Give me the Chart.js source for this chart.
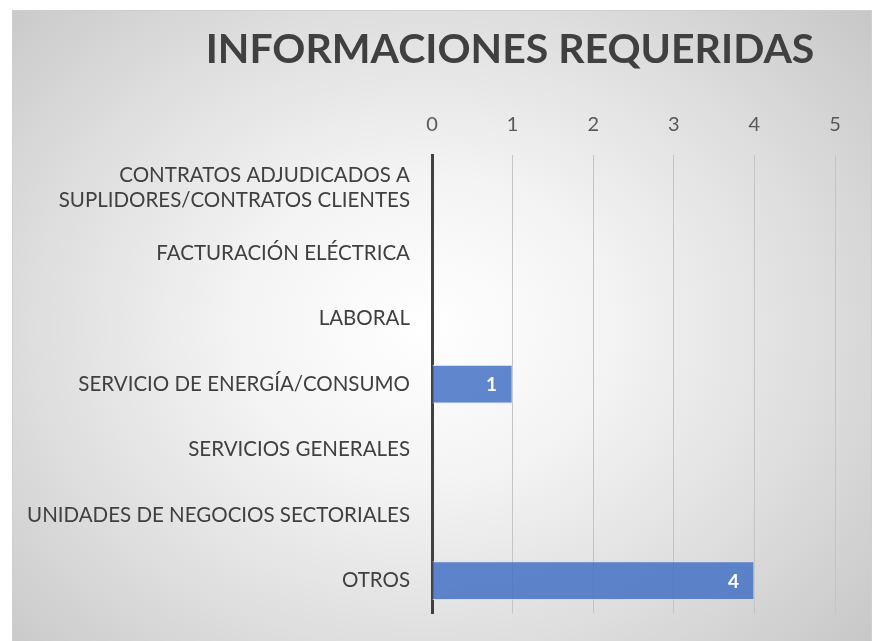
<!DOCTYPE html>
<html><head><meta charset="utf-8">
<script src="https://cdn.jsdelivr.net/npm/chart.js@4.4.1/dist/chart.umd.min.js"></script>
<style>
html,body{margin:0;padding:0;width:875px;height:641px;overflow:hidden;background:#fff;}
#panel{position:absolute;left:12px;top:10px;width:858px;height:660px;border:1px solid #cfcfcf;
background:radial-gradient(ellipse 70% 75% at 48% 48%, #ffffff 0%, #f4f4f4 30%, #dedede 65%, #c6c6c6 100%);}
#c{position:absolute;left:0;top:0;}
</style></head>
<body>
<div id="panel"></div>
<canvas id="c" width="875" height="641"></canvas>
<script>
const titleText = 'INFORMACIONES REQUERIDAS';
const categories = [
  ['CONTRATOS ADJUDICADOS A','SUPLIDORES/CONTRATOS CLIENTES'],
  'FACTURACIÓN ELÉCTRICA',
  'LABORAL',
  'SERVICIO DE ENERGÍA/CONSUMO',
  'SERVICIOS GENERALES',
  'UNIDADES DE NEGOCIOS SECTORIALES',
  'OTROS'
];
const values = [null, null, null, 1, null, null, 4];
const tickValues = [0, 1, 2, 3, 4, 5];

const FONT = "Lato, 'Open Sans', sans-serif";

const valueLabels = {
  id: 'valueLabels',
  afterDatasetsDraw(chart) {
    const ctx = chart.ctx;
    const meta = chart.getDatasetMeta(0);
    ctx.save();
    ctx.font = "bold 19px " + FONT;
    ctx.fillStyle = '#ffffff';
    ctx.textAlign = 'center';
    ctx.textBaseline = 'middle';
    meta.data.forEach((bar, i) => {
      const v = values[i];
      if (v === null || v === undefined) return;
      ctx.fillText(String(v), bar.x - 21, bar.y + 1);
    });
    ctx.restore();
  }
};

// let the category labels extend left of the (narrow) y-axis box without clipping
const widenLabelArea = {
  id: 'widenLabelArea',
  afterLayout(chart) { chart.scales.y.left = 0; }
};

new Chart(document.getElementById('c'), {
  type: 'bar',
  data: {
    labels: categories,
    datasets: [{
      data: values,
      backgroundColor: 'rgba(68,114,196,0.85)',
      borderColor: 'rgba(205,218,240,0.9)',
      borderWidth: 1,
      borderSkipped: 'start',
      categoryPercentage: 1,
      barPercentage: 0.59
    }]
  },
  options: {
    indexAxis: 'y',
    responsive: false,
    animation: false,
    layout: { padding: { left: 185, right: 40, top: 0, bottom: 22 } },
    plugins: {
      legend: { display: false },
      tooltip: { enabled: false },
      title: {
        display: true,
        text: titleText,
        color: '#404040',
        font: { family: FONT, size: 41, weight: 'bold' },
        padding: { top: 25, bottom: 19 }
      }
    },
    scales: {
      x: {
        position: 'top',
        min: 0, max: 5,
        afterBuildTicks(scale) { scale.ticks = tickValues.map(v => ({ value: v })); },
        grid: { color: '#c4c4c4', lineWidth: 1, drawTicks: false },
        border: { display: false },
        ticks: { color: '#595959', padding: 19, font: { family: FONT, size: 20 } }
      },
      y: {
        afterFit(scale) { scale.width = 432 - 185; },
        grid: { display: false, drawTicks: true, tickLength: 19 },
        border: { display: true, color: '#404040', width: 3 },
        ticks: { color: '#404040', padding: 3, font: { family: FONT, size: 20.5 } }
      }
    }
  },
  plugins: [valueLabels, widenLabelArea]
});
</script>
</body></html>
